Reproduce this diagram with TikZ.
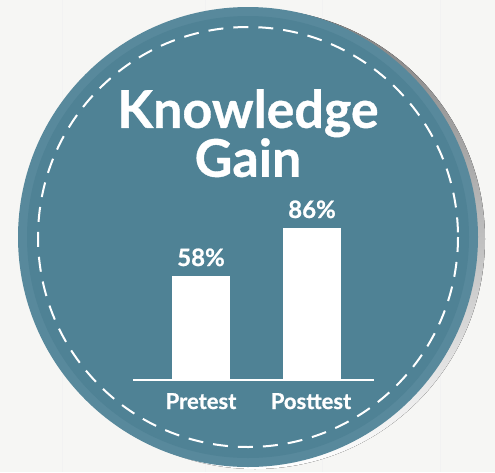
\documentclass[tikz,border=0pt]{standalone}
\usepackage{fontspec}
\setmainfont{Lato}[BoldFeatures={FakeBold=0.7}]
\definecolor{bg}{HTML}{F6F6F4}
\definecolor{teal}{HTML}{4F8295}
\definecolor{rim}{HTML}{58899C}
\definecolor{shade}{HTML}{DCDCDC}
\tikzset{
  lbl/.style={text=white, font=\bfseries, inner sep=0pt, anchor=base},
  bar/.style={fill=white, draw=none}
}
\begin{document}
\begin{tikzpicture}[x=1pt,y=-1pt]
\fill[bg] (0,0) rectangle (495,472);
\useasboundingbox (0,0) rectangle (495,472);
\foreach \xx in {62,205,322,440} {\draw[black!5, line width=0.6pt] (\xx,0) -- (\xx,472);}
\fill[shade] (255,239) circle (230);
\fill[rim] (248,237) circle (230);
\fill[teal] (248,237) circle (221);
\draw[white, line width=2pt, dash pattern=on 15pt off 10pt] (248,237) circle (210);
% title
\node[lbl, anchor=north, align=center, font=\bfseries\fontsize{52}{45}\selectfont] (title) at (248,89) {Knowledge\\Gain};
% bars
\fill[bar] (172,276) rectangle (230,380);
\fill[bar] (283,228) rectangle (341,380);
\draw[white, line width=1.2pt] (133,380) -- (374,380);
\node[lbl, font=\bfseries\fontsize{24}{24}\selectfont] (p1) at (201,266) {58\%};
\node[lbl, font=\bfseries\fontsize{24}{24}\selectfont] (p2) at (312,218) {86\%};
\node[lbl, font=\bfseries\fontsize{22}{22}\selectfont] (l1) at (201,409) {Pretest};
\node[lbl, font=\bfseries\fontsize{22}{22}\selectfont] (l2) at (311,409) {Posttest};
\end{tikzpicture}
\end{document}
